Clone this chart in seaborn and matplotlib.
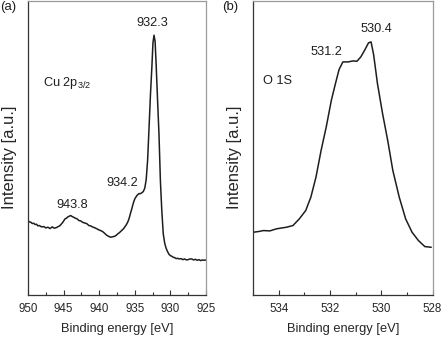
import matplotlib
matplotlib.use("Agg")
import matplotlib.pyplot as plt
import seaborn as sns
import pandas as pd
from matplotlib.ticker import MultipleLocator

# ---- data ----
energy_cu = [950.0, 949.8, 949.6, 949.4, 949.2, 949.0, 948.8, 948.6, 948.4, 948.1,
             947.8, 947.5, 947.2, 946.9, 946.6, 946.3, 946.0, 945.75, 945.5, 945.3,
             945.1, 944.8, 944.6, 944.4, 944.2, 944.0, 943.8, 943.6, 943.35, 943.1,
             942.85, 942.6, 942.35, 942.1, 941.9, 941.7, 941.45, 941.2, 940.95, 940.7,
             940.5, 940.3, 940.05, 939.8, 939.6, 939.4, 939.2, 939.0, 938.8, 938.6,
             938.4, 938.2, 938.0, 937.8, 937.6, 937.4, 937.2, 937.0, 936.8, 936.6,
             936.4, 936.2, 936.05, 935.9, 935.75, 935.6, 935.45, 935.3, 935.15, 935.0,
             934.85, 934.7, 934.55, 934.4, 934.25, 934.1, 933.95, 933.8,
             933.6, 933.4, 933.2, 933.0, 932.8, 932.6, 932.45, 932.3, 932.15, 932.0,
             931.8, 931.6, 931.4, 931.2, 931.0, 930.8, 930.6, 930.4, 930.2, 930.0,
             929.8, 929.6, 929.4, 929.2, 929.0, 928.75, 928.5, 928.25, 928.0, 927.75,
             927.5, 927.25, 927.0, 926.75, 926.5, 926.25, 926.0, 925.75, 925.5, 925.25,
             925.0]
intensity_cu = [223, 219, 218, 214, 215, 211, 212, 207, 208, 204,
                205, 201, 203, 199, 204, 200, 202, 205, 208, 213,
                218, 228, 230, 234, 236, 238, 235, 233, 230, 228,
                223, 222, 218, 216, 215, 213, 208, 207, 204, 202,
                200, 198, 195, 193, 191, 188, 184, 180, 177, 175,
                173, 174, 175, 176, 179, 183, 186, 190, 194, 198,
                204, 210, 216, 223, 233, 245, 256, 268, 279, 288,
                293, 298, 301, 304, 303, 305, 307, 310,
                320, 345, 403, 500, 600, 683, 755, 778, 760, 690,
                583, 480, 340, 250, 183, 155, 140, 130, 122, 118,
                116, 113, 112, 109, 110, 108, 109, 106, 108, 105,
                106, 108, 108, 105, 107, 104, 106, 103, 105, 104,
                105]

energy_o = [535.0, 534.8, 534.6, 534.35, 534.1, 533.95, 533.7, 533.45, 533.2, 532.95,
            532.75, 532.55, 532.35, 532.15, 531.95, 531.8, 531.65, 531.5, 531.3, 531.1,
            530.95, 530.8, 530.65, 530.5, 530.4, 530.3, 530.15, 529.95, 529.75, 529.55,
            529.3, 529.05, 528.8, 528.55, 528.3, 528.05]
intensity_o = [188, 190, 193, 192, 198, 200, 203, 208, 228, 253,
               293, 353, 433, 503, 583, 630, 675, 698, 698, 701,
               700, 713, 733, 755, 758, 720, 633, 543, 463, 373,
               293, 228, 188, 163, 145, 143]

cu_peaks = ["932.3", "934.2", "943.8"]
o_peaks = ["530.4", "531.2"]

df_cu = pd.DataFrame({"E": energy_cu, "I": intensity_cu})
df_o = pd.DataFrame({"E": energy_o, "I": intensity_o})

sns.set_theme(style="white")
plt.rcParams["font.family"] = ["Liberation Sans", "DejaVu Sans"]
plt.rcParams["mathtext.default"] = "regular"

fig = plt.figure(figsize=(4.45, 3.37), dpi=100)
ax1 = fig.add_axes([0.0629, 0.1246, 0.4, 0.872])
ax2 = fig.add_axes([0.569, 0.1246, 0.403, 0.872])

line_kw = dict(color="#1e1e1e", linewidth=1.1)
sns.lineplot(data=df_cu, x="E", y="I", ax=ax1, sort=False, **line_kw)
sns.lineplot(data=df_o, x="E", y="I", ax=ax2, sort=False, **line_kw)

ax1.set_xlim(950, 925)
ax2.set_xlim(535, 528)
for ax in (ax1, ax2):
    ax.set_ylim(0, 880)
    ax.set_yticks([])
    ax.set_xlabel("Binding energy [eV]", fontsize=9.3)
    ax.set_ylabel("Intensity [a.u.]", fontsize=12)
    ax.xaxis.set_label_coords(0.5, -0.095)
    ax.yaxis.set_label_coords(-0.062, 0.47)
    ax.tick_params(axis="x", which="both", direction="in", bottom=True, top=False,
                   labelsize=8.3, pad=6, color="#333333")
    ax.tick_params(axis="x", which="major", length=3.5, width=0.8)
    ax.tick_params(axis="x", which="minor", length=2, width=0.8)
    for s in ("left", "bottom"):
        ax.spines[s].set_color("#333333")
        ax.spines[s].set_linewidth(0.9)
    for s in ("top", "right"):
        ax.spines[s].set_color("#9a9a9a")
        ax.spines[s].set_linewidth(0.9)

ax1.xaxis.set_major_locator(MultipleLocator(5))
ax1.xaxis.set_minor_locator(MultipleLocator(2.5))
ax2.xaxis.set_major_locator(MultipleLocator(2))
ax2.xaxis.set_minor_locator(MultipleLocator(1))

ann = dict(fontsize=9.2, ha="center", va="center", color="#1e1e1e")
ax1.text(932.6, 814, cu_peaks[0], **ann)
ax1.text(936.7, 334, cu_peaks[1], **ann)
ax1.text(943.8, 271, cu_peaks[2], **ann)
ax1.text(0.083, 0.72, "Cu 2p$_{3/2}$", transform=ax1.transAxes, fontsize=9.2,
         ha="left", va="center", color="#1e1e1e")

ax2.text(530.21, 796, o_peaks[0], **ann)
ax2.text(532.13, 727, o_peaks[1], **ann)
ax2.text(0.054, 0.728, "O 1S", transform=ax2.transAxes, fontsize=9.2,
         ha="left", va="center", color="#1e1e1e")

fig.text(0.0, 1 - 7 / 337, "(a)", fontsize=9.5, ha="left", va="center", color="#1e1e1e")
fig.text(0.499, 1 - 7 / 337, "(b)", fontsize=9.5, ha="left", va="center", color="#1e1e1e")

fig.savefig("out.png", dpi=100)
